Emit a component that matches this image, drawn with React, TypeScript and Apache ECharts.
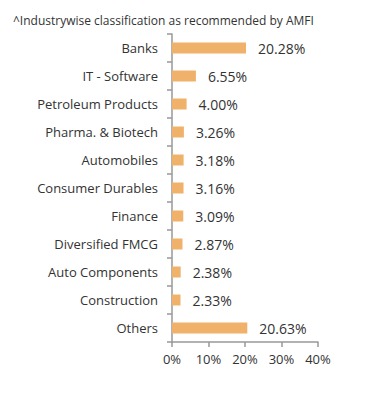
import React, { useEffect, useRef } from "react";
import * as echarts from "echarts";

const categories = [
  "Banks",
  "IT - Software",
  "Petroleum Products",
  "Pharma. & Biotech",
  "Automobiles",
  "Consumer Durables",
  "Finance",
  "Diversified FMCG",
  "Auto Components",
  "Construction",
  "Others",
];
const values = [20.28, 6.55, 4.0, 3.26, 3.18, 3.16, 3.09, 2.87, 2.38, 2.33, 20.63];
const xTicks = [0, 10, 20, 30, 40];
const title = "^Industrywise classification as recommended by AMFI";

export default function App() {
  const ref = useRef<HTMLDivElement>(null);
  useEffect(() => {
    if (!ref.current) return;
    const chart = echarts.init(ref.current, null, { renderer: "svg" });
    const font = "'Open Sans', Lato, sans-serif";
    chart.setOption({
      animation: false,
      textStyle: { fontFamily: font },
      title: {
        text: title,
        left: 0,
        top: 1,
        textStyle: { fontSize: 12, fontWeight: "normal", color: "#333", fontFamily: font },
      },
      grid: { left: 164, right: 73, top: 26, bottom: 53 },
      xAxis: {
        type: "value",
        min: xTicks[0],
        max: xTicks[xTicks.length - 1],
        interval: 10,
        splitLine: { show: false },
        axisLine: { show: true, lineStyle: { color: "#999", width: 1.5 } },
        axisTick: { show: true, length: 5, lineStyle: { color: "#999", width: 1.5 } },
        axisLabel: { formatter: "{value}%", fontSize: 13, color: "#333", margin: 10, fontFamily: font },
      },
      yAxis: {
        type: "category",
        data: categories,
        inverse: true,
        axisLine: { show: true, lineStyle: { color: "#999", width: 1.5 } },
        axisTick: { show: true, length: 5, lineStyle: { color: "#999", width: 1.5 } },
        axisLabel: { fontSize: 13, color: "#333", margin: 14, fontFamily: font },
      },
      series: [
        {
          type: "bar",
          data: values,
          barWidth: 11,
          itemStyle: { color: "#F0B26B" },
          label: {
            show: true,
            position: "right",
            distance: 12,
            formatter: (p: any) => p.value.toFixed(2) + "%",
            fontSize: 14,
            color: "#333",
            fontFamily: font,
          },
        },
      ],
    });
    return () => chart.dispose();
  }, []);
  return <div ref={ref} style={{ width: 383, height: 387 }} />;
}
